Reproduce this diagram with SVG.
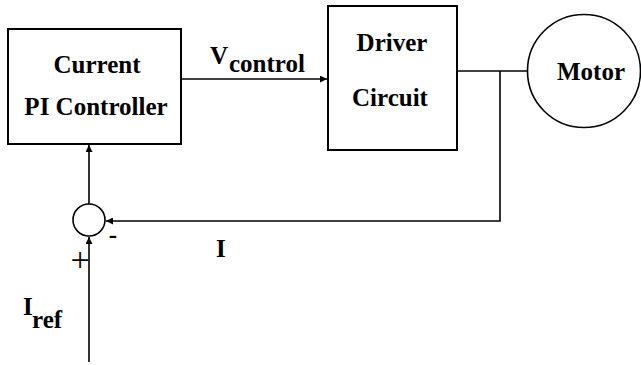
<svg xmlns="http://www.w3.org/2000/svg" width="641" height="365" viewBox="0 0 641 365">
<style>
.box{fill:#fff;stroke:#000;stroke-width:2}
.ln{fill:none;stroke:#000;stroke-width:1.6}
.t{font-family:"Liberation Serif","Times New Roman","DejaVu Serif",serif;font-weight:bold;font-size:25px;fill:#000}
.s{font-family:"Liberation Serif","Times New Roman","DejaVu Serif",serif;font-size:34px;fill:#000}
</style>
<defs>
<marker id="ah" viewBox="0 0 10 10" refX="10" refY="5" markerWidth="10" markerHeight="7" markerUnits="userSpaceOnUse" orient="auto">
<path d="M0,0 L10,5 L0,10 Z" fill="#000"/>
</marker>
</defs>
<rect width="641" height="365" fill="#fff"/>
<g id="connectors">
<line class="ln" x1="181" y1="79" x2="327" y2="79" marker-end="url(#ah)"/>
<line class="ln" x1="457" y1="71" x2="528" y2="71"/>
<polyline class="ln" points="500,71 500,221 106,221" marker-end="url(#ah)"/>
<line class="ln" x1="89" y1="204" x2="89" y2="145" marker-end="url(#ah)"/>
<line class="ln" x1="89" y1="362" x2="89" y2="237" marker-end="url(#ah)"/>
</g>
<g id="pi-controller">
<rect class="box" x="8" y="29" width="173" height="115"/>
<text class="t" x="97" y="73" text-anchor="middle">Current</text>
<text class="t" x="96" y="115" text-anchor="middle">PI Controller</text>
</g>
<g id="driver-circuit">
<rect class="box" x="328" y="6" width="129" height="144"/>
<text class="t" x="392" y="51" text-anchor="middle">Driver</text>
<text class="t" x="390" y="106" text-anchor="middle">Circuit</text>
</g>
<g id="motor">
<circle class="ln" cx="584" cy="71" r="56.5"/>
<text class="t" x="591" y="80" text-anchor="middle">Motor</text>
</g>
<g id="sum">
<circle class="ln" cx="89" cy="220" r="16"/>
<text class="t" x="113" y="243" text-anchor="middle">-</text>
<text class="s" x="80" y="271" text-anchor="middle">+</text>
</g>
<g id="labels">
<text class="t" x="210" y="64">V</text>
<text class="t" x="229" y="72">control</text>
<text class="t" x="216" y="257">I</text>
<text class="t" x="23" y="315">I</text>
<text class="t" x="32" y="328">ref</text>
</g>
</svg>
